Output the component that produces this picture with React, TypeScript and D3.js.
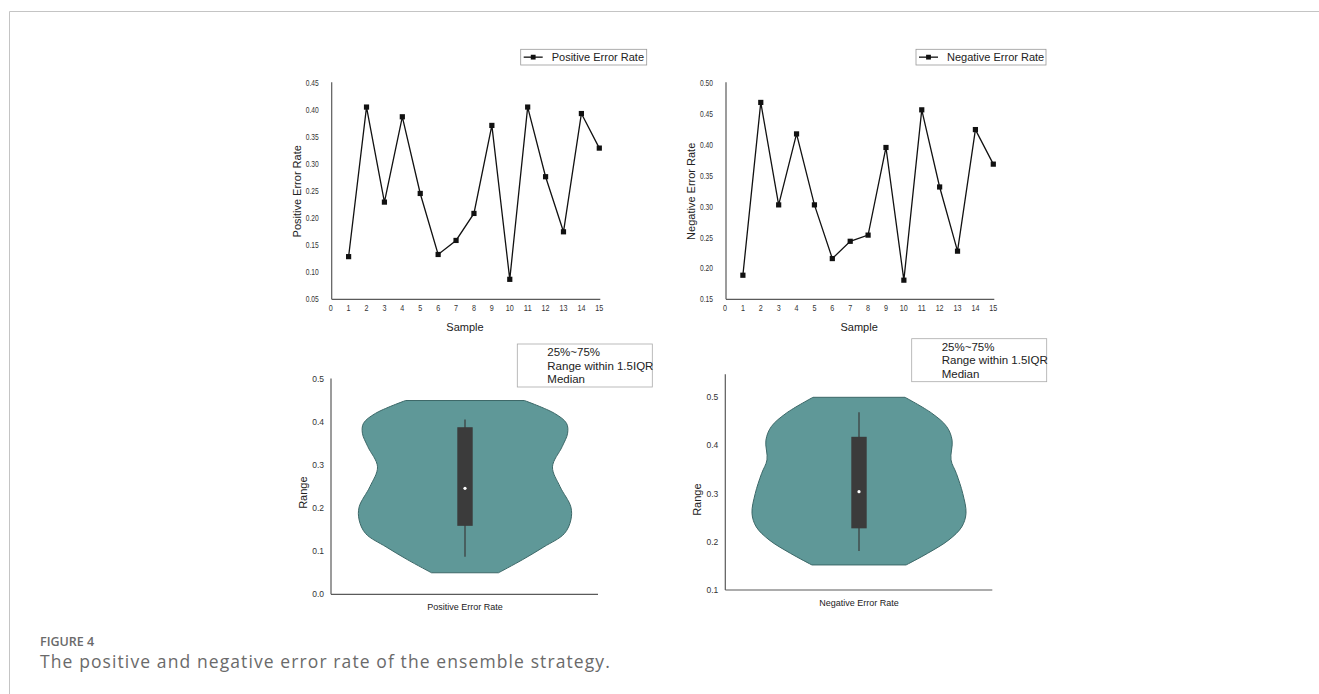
import React from "react";
import * as d3 from "d3";

// ---------- data ----------
const samples = [1, 2, 3, 4, 5, 6, 7, 8, 9, 10, 11, 12, 13, 14, 15];
const positiveErrorRate = [0.129, 0.406, 0.230, 0.388, 0.246, 0.133, 0.159, 0.209, 0.372, 0.087, 0.406, 0.277, 0.175, 0.394, 0.330];
const negativeErrorRate = [0.189, 0.469, 0.303, 0.418, 0.303, 0.216, 0.244, 0.254, 0.396, 0.181, 0.457, 0.332, 0.228, 0.425, 0.369];

const posYTicks = [0.05, 0.10, 0.15, 0.20, 0.25, 0.30, 0.35, 0.40, 0.45];
const negYTicks = [0.15, 0.20, 0.25, 0.30, 0.35, 0.40, 0.45, 0.50];
const xTicks = [0, 1, 2, 3, 4, 5, 6, 7, 8, 9, 10, 11, 12, 13, 14, 15];

// violin outline: level value and relative half width (0..1)
const posViolinLevels = [0.45, 0.42, 0.397, 0.374, 0.343, 0.296, 0.25, 0.203, 0.1725, 0.141, 0.11, 0.08, 0.05];
const posViolinWidths = [0.55, 0.83, 0.94, 0.95, 0.90, 0.81, 0.88, 0.98, 0.98, 0.92, 0.73, 0.53, 0.31];
const negViolinLevels = [0.5, 0.467, 0.439, 0.411, 0.37, 0.342, 0.30, 0.259, 0.231, 0.204, 0.176, 0.152];
const negViolinWidths = [0.43, 0.68, 0.82, 0.87, 0.86, 0.91, 0.97, 1.0, 0.96, 0.84, 0.64, 0.44];

// box stats [whiskerLow, q1, median, q3, whiskerHigh]
const posBox = [0.087, 0.159, 0.246, 0.388, 0.406];
const negBox = [0.181, 0.228, 0.304, 0.418, 0.469];

const posViolinTicks = [0.0, 0.1, 0.2, 0.3, 0.4, 0.5];
const negViolinTicks = [0.1, 0.2, 0.3, 0.4, 0.5];
const legendLines = ["25%~75%", "Range within 1.5IQR", "Median"];

const FONT = "'Liberation Sans', Arial, sans-serif";
const AXIS = "#5a5a5a";
const TICKTXT = "#333";

type LineProps = {
  values: number[];
  yDomain: [number, number];
  yTicks: number[];
  x0: number; x1: number; yTop: number; yBot: number;
  title: string;
  legendBox: [number, number, number, number];
};

function LineChart({ values, yDomain, yTicks, x0, x1, yTop, yBot, title, legendBox }: LineProps) {
  const x = d3.scaleLinear().domain([0, 15]).range([x0, x1]);
  const y = d3.scaleLinear().domain(yDomain).range([yBot, yTop]);
  const pts = samples.map((s, i) => [x(s), y(values[i])] as [number, number]);
  const line = d3.line()(pts) || "";
  const [lx, ly, lw, lh] = legendBox;
  const lcy = ly + lh / 2;
  return (
    <g fontFamily={FONT}>
      <line x1={x0 + 1} x2={x0 + 1} y1={yTop - 1} y2={yBot} stroke={AXIS} strokeWidth={1.2} />
      <line x1={x0 + 1} x2={x1 + 1} y1={yBot} y2={yBot} stroke={AXIS} strokeWidth={1.2} />
      {yTicks.map((t) => (
        <text key={t} x={x0 - 12} y={y(t)} textAnchor="end" dominantBaseline="central" fontSize={8.5}
          textLength={13} lengthAdjust="spacingAndGlyphs" fill={TICKTXT}>
          {t.toFixed(2)}
        </text>
      ))}
      {xTicks.map((t) => (
        <text key={t} x={x(t)} y={yBot + 9} textAnchor="middle" dominantBaseline="central" fontSize={8.5}
          textLength={String(t).length * 4} lengthAdjust="spacingAndGlyphs" fill={TICKTXT}>
          {t}
        </text>
      ))}
      <text x={(x0 + x1) / 2} y={yBot + 28} textAnchor="middle" dominantBaseline="central" fontSize={11} fill="#222">Sample</text>
      <text transform={`translate(${x0 - 34},${(yTop + yBot) / 2}) rotate(-90)`} textAnchor="middle" dominantBaseline="central" fontSize={11} fill="#222">
        {title}
      </text>
      <path d={line} fill="none" stroke="#111" strokeWidth={1.3} />
      {pts.map((p, i) => (
        <rect key={i} x={p[0] - 2.6} y={p[1] - 2.6} width={5.2} height={5.2} fill="#111" />
      ))}
      <rect x={lx} y={ly} width={lw} height={lh} fill="white" stroke="#999" strokeWidth={0.8} />
      <line x1={lx + 3} x2={lx + 22} y1={lcy} y2={lcy} stroke="#111" strokeWidth={1.3} />
      <rect x={lx + 12.5 - 2.4} y={lcy - 2.4} width={4.8} height={4.8} fill="#111" />
      <text x={lx + 31} y={lcy} dominantBaseline="central" fontSize={11} fill="#222">{title}</text>
    </g>
  );
}

type ViolinProps = {
  levels: number[]; widths: number[]; box: number[];
  yDomain: [number, number]; ticks: number[];
  x0: number; x1: number; yAxisTop: number; yBot: number; yTopVal: number; yTopPx: number;
  cx: number; maxHalf: number; label: string;
  legendBox: [number, number, number, number];
};

function Violin({ levels, widths, box, yDomain, ticks, x0, x1, yAxisTop, yBot, yTopVal, yTopPx, cx, maxHalf, label, legendBox }: ViolinProps) {
  const y = d3.scaleLinear().domain([yDomain[0], yTopVal]).range([yBot, yTopPx]);
  const w = d3.scaleLinear().domain([0, 1]).range([0, maxHalf]);
  const pts = levels.map((v, i) => ({ v, hw: widths[i] }));
  const area = d3.area<{ v: number; hw: number }>()
    .y((d) => y(d.v))
    .x0((d) => cx - w(d.hw))
    .x1((d) => cx + w(d.hw))
    .curve(d3.curveCatmullRom.alpha(0.5));
  const [lx, ly, lw, lh] = legendBox;
  return (
    <g fontFamily={FONT}>
      <line x1={x0} x2={x0} y1={yAxisTop} y2={yBot} stroke={AXIS} strokeWidth={1.2} />
      <line x1={x0} x2={x1} y1={yBot} y2={yBot} stroke={AXIS} strokeWidth={1.2} />
      {ticks.map((t) => (
        <text key={t} x={x0 - 7} y={y(t)} textAnchor="end" dominantBaseline="central" fontSize={8.5} fill={TICKTXT}>
          {t.toFixed(1)}
        </text>
      ))}
      <text x={cx} y={yBot + 12.5} textAnchor="middle" dominantBaseline="central" fontSize={9} fill="#222">{label}</text>
      <text transform={`translate(${x0 - 28},${y((ticks[0] + yTopVal) / 2) + 6}) rotate(-90)`} textAnchor="middle" dominantBaseline="central" fontSize={11} fill="#222">
        Range
      </text>
      <path d={area(pts) || ""} fill="#5f9898" stroke="#3c6868" strokeWidth={1} />
      <line x1={cx} x2={cx} y1={y(box[0])} y2={y(box[4])} stroke="#3a3a3a" strokeWidth={1.2} />
      <rect x={cx - 7.7} y={y(box[3])} width={15.4} height={y(box[1]) - y(box[3])} fill="#3b3b3b" />
      <circle cx={cx} cy={y(box[2])} r={1.6} fill="white" />
      <rect x={lx} y={ly} width={lw} height={lh} fill="white" stroke="#aaa" strokeWidth={0.8} />
      {legendLines.map((s, i) => (
        <text key={s} x={lx + 30} y={ly + 8 + i * 13.7} dominantBaseline="central" fontSize={11.5} fill="#222">{s}</text>
      ))}
    </g>
  );
}

export default function App() {
  return (
    <div style={{ position: "absolute", left: 0, top: 0 }}>
      <svg width={1319} height={694} style={{ display: "block", background: "white" }}>
        <line x1={9.5} x2={1319} y1={11.5} y2={11.5} stroke="#c4c4c4" strokeWidth={1} />
        <line x1={9.5} x2={9.5} y1={11.5} y2={694} stroke="#c4c4c4" strokeWidth={1} />

        <LineChart values={positiveErrorRate} yDomain={[0.05, 0.45]} yTicks={posYTicks}
          x0={330.7} x1={599.3} yTop={83.3} yBot={299.3} title="Positive Error Rate"
          legendBox={[520.7, 49.3, 126, 15.7]} />
        <LineChart values={negativeErrorRate} yDomain={[0.15, 0.5]} yTicks={negYTicks}
          x0={725} x1={993.3} yTop={83.3} yBot={299.3} title="Negative Error Rate"
          legendBox={[916, 49.3, 130, 15.7]} />

        <Violin levels={posViolinLevels} widths={posViolinWidths} box={posBox}
          yDomain={[0, 0.5]} ticks={posViolinTicks} x0={331} x1={598} yAxisTop={378.5} yBot={594.3}
          yTopVal={0.5} yTopPx={379} cx={465} maxHalf={108} label="Positive Error Rate"
          legendBox={[517.3, 344, 135, 43]} />
        <Violin levels={negViolinLevels} widths={negViolinWidths} box={negBox}
          yDomain={[0.1, 0.55]} ticks={negViolinTicks} x0={725.3} x1={992.3} yAxisTop={374.3} yBot={590}
          yTopVal={0.5} yTopPx={397.3} cx={859} maxHalf={107} label="Negative Error Rate"
          legendBox={[911.7, 338.7, 135, 43]} />

        <text x={40} y={646} fontFamily="'Open Sans', sans-serif" fontSize={12.5} fontWeight={600} fill="#6a6a6a">FIGURE 4</text>
        <text x={40} y={668} fontFamily="'Open Sans', sans-serif" fontSize={17.5} letterSpacing={1.1} fill="#6a6a6a">
          The positive and negative error rate of the ensemble strategy.
        </text>
      </svg>
    </div>
  );
}
